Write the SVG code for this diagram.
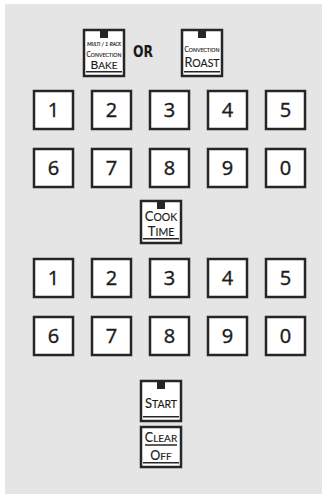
<svg xmlns="http://www.w3.org/2000/svg" width="322" height="494" viewBox="0 0 322 494">
<style>
.bg{fill:#e5e5e5}
.key rect.b{fill:#fff;stroke:#262626;stroke-width:2.5}
.ind{fill:#262626}
.dl{stroke:#262626;stroke-width:1.5}
.d{font-family:"Open Sans","DejaVu Sans",sans-serif;font-size:20px;fill:#1a1a1a;stroke:#1a1a1a;stroke-width:0.4;text-anchor:middle}
.f{font-family:Lato,"Open Sans",sans-serif;fill:#1a1a1a;stroke:#1a1a1a;stroke-width:0.15;text-anchor:middle}
.or{font-family:"DejaVu Sans Condensed","DejaVu Sans",sans-serif;font-weight:bold;font-size:15px;fill:#1a1a1a;text-anchor:middle}
</style>
<rect class="bg" x="5" y="4" width="317" height="490"/>
<g id="bake" class="key">
<rect class="b" x="84" y="30" width="40" height="46"/>
<rect class="ind" x="100" y="30" width="8" height="8"/>
<line class="dl" x1="86" y1="71.8" x2="122" y2="71.8"/>
<text class="f" x="104" y="45.5" font-size="6" font-style="italic" textLength="34" lengthAdjust="spacingAndGlyphs">M<tspan font-size="4.8">ULTI</tspan> / 1 R<tspan font-size="4.8">ACK</tspan></text>
<text class="f" x="104" y="56.5" font-size="8" textLength="35" lengthAdjust="spacingAndGlyphs">C<tspan font-size="6.5">ONVECTION</tspan></text>
<text class="f" x="104" y="69" font-size="12">B<tspan font-size="10">AKE</tspan></text>
</g>
<text class="or" x="143" y="57" textLength="20" lengthAdjust="spacingAndGlyphs">OR</text>
<g id="roast" class="key">
<rect class="b" x="182" y="30" width="40" height="46"/>
<rect class="ind" x="198" y="30" width="8" height="8"/>
<line class="dl" x1="184" y1="71.8" x2="220" y2="71.8"/>
<text class="f" x="202" y="52" font-size="8" textLength="35" lengthAdjust="spacingAndGlyphs">C<tspan font-size="6.5">ONVECTION</tspan></text>
<text class="f" x="202" y="67" font-size="12.5">R<tspan font-size="10.5">OAST</tspan></text>
</g>
<g id="digits1">
<g id="k1a" class="key"><rect class="b" x="34" y="91" width="39" height="38"/><text class="d" x="53.5" y="117">1</text></g>
<g id="k2a" class="key"><rect class="b" x="92" y="91" width="39" height="38"/><text class="d" x="111.5" y="117">2</text></g>
<g id="k3a" class="key"><rect class="b" x="150" y="91" width="39" height="38"/><text class="d" x="169.5" y="117">3</text></g>
<g id="k4a" class="key"><rect class="b" x="208" y="91" width="39" height="38"/><text class="d" x="227.5" y="117">4</text></g>
<g id="k5a" class="key"><rect class="b" x="266" y="91" width="39" height="38"/><text class="d" x="285.5" y="117">5</text></g>
<g id="k6a" class="key"><rect class="b" x="34" y="149" width="39" height="38"/><text class="d" x="53.5" y="175">6</text></g>
<g id="k7a" class="key"><rect class="b" x="92" y="149" width="39" height="38"/><text class="d" x="111.5" y="175">7</text></g>
<g id="k8a" class="key"><rect class="b" x="150" y="149" width="39" height="38"/><text class="d" x="169.5" y="175">8</text></g>
<g id="k9a" class="key"><rect class="b" x="208" y="149" width="39" height="38"/><text class="d" x="227.5" y="175">9</text></g>
<g id="k0a" class="key"><rect class="b" x="266" y="149" width="39" height="38"/><text class="d" x="285.5" y="175">0</text></g>
</g>
<g id="cooktime" class="key">
<rect class="b" x="141" y="201" width="40" height="42"/>
<rect class="ind" x="157" y="201" width="8" height="8"/>
<line class="dl" x1="143" y1="238.8" x2="179" y2="238.8"/>
<text class="f" x="161" y="221" font-size="13">C<tspan font-size="10.5">OOK</tspan></text>
<text class="f" x="161" y="236" font-size="13">T<tspan font-size="10.5">IME</tspan></text>
</g>
<g id="digits2">
<g id="k1b" class="key"><rect class="b" x="34" y="259" width="39" height="38"/><text class="d" x="53.5" y="285">1</text></g>
<g id="k2b" class="key"><rect class="b" x="92" y="259" width="39" height="38"/><text class="d" x="111.5" y="285">2</text></g>
<g id="k3b" class="key"><rect class="b" x="150" y="259" width="39" height="38"/><text class="d" x="169.5" y="285">3</text></g>
<g id="k4b" class="key"><rect class="b" x="208" y="259" width="39" height="38"/><text class="d" x="227.5" y="285">4</text></g>
<g id="k5b" class="key"><rect class="b" x="266" y="259" width="39" height="38"/><text class="d" x="285.5" y="285">5</text></g>
<g id="k6b" class="key"><rect class="b" x="34" y="317" width="39" height="38"/><text class="d" x="53.5" y="343">6</text></g>
<g id="k7b" class="key"><rect class="b" x="92" y="317" width="39" height="38"/><text class="d" x="111.5" y="343">7</text></g>
<g id="k8b" class="key"><rect class="b" x="150" y="317" width="39" height="38"/><text class="d" x="169.5" y="343">8</text></g>
<g id="k9b" class="key"><rect class="b" x="208" y="317" width="39" height="38"/><text class="d" x="227.5" y="343">9</text></g>
<g id="k0b" class="key"><rect class="b" x="266" y="317" width="39" height="38"/><text class="d" x="285.5" y="343">0</text></g>
</g>
<g id="start" class="key">
<rect class="b" x="141" y="381" width="40" height="40"/>
<rect class="ind" x="157" y="381" width="8" height="8"/>
<line class="dl" x1="143" y1="416.8" x2="179" y2="416.8"/>
<text class="f" x="161" y="408" font-size="13">S<tspan font-size="10.5">TART</tspan></text>
</g>
<g id="clearoff" class="key">
<rect class="b" x="141" y="427" width="40" height="40"/>
<line class="dl" x1="145" y1="445" x2="177" y2="445"/>
<line class="dl" x1="143" y1="462.8" x2="179" y2="462.8"/>
<text class="f" x="161" y="441.5" font-size="12.5">C<tspan font-size="10">LEAR</tspan></text>
<text class="f" x="161" y="459.5" font-size="12.5">O<tspan font-size="10">FF</tspan></text>
</g>
</svg>
